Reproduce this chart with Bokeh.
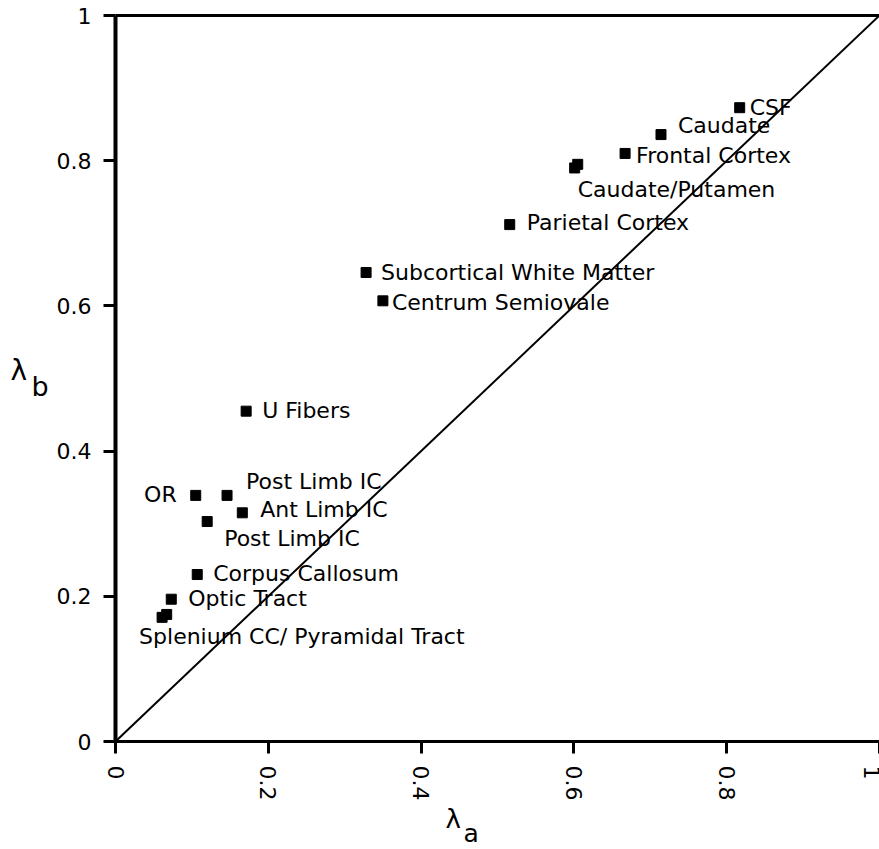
from bokeh.plotting import figure
from bokeh.layouts import row, column
from bokeh.models import Range1d, LinearAxis, FixedTicker, Slope, ColumnDataSource, CustomJSTickFormatter
from bokeh.core.properties import value
from bokeh.embed import file_html
from bokeh.resources import INLINE

# Data
lambda_a = [0.817, 0.714, 0.667, 0.601, 0.605, 0.516, 0.328, 0.350, 0.171,
            0.105, 0.146, 0.166, 0.120, 0.107, 0.073, 0.061, 0.067]
lambda_b = [0.873, 0.836, 0.810, 0.790, 0.795, 0.712, 0.646, 0.607, 0.455,
            0.339, 0.339, 0.315, 0.303, 0.230, 0.196, 0.171, 0.175]
regions = ["CSF", "Caudate", "Frontal Cortex", "Caudate/Putamen", "",
           "Parietal Cortex", "Subcortical White Matter", "Centrum Semiovale",
           "U Fibers", "OR", "Post Limb IC", "Ant Limb IC", "Post Limb IC",
           "Corpus Callosum", "Optic Tract", "Splenium CC/ Pyramidal Tract", ""]
tick_values = [0, 0.2, 0.4, 0.6, 0.8, 1.0]
x_title = ["λ", "a"]
y_title = ["λ", "b"]

# label placement (pixels)
label_dx = [10, 17, 11, 3, 0, 17, 15, 9, 16, -19, 19, 18, 17, 16, 17, -23, 0]
label_dy = [0, -9, 2, 22, 0, -2, 0, 2, -1, -1, -14, -3, 17, -1, -1, 19, 0]
label_align = ["left"] * 9 + ["right"] + ["left"] * 7

FONT = "DejaVu Sans"
W, H = 879, 849
LEFT_W = 50
MAIN_H = 805


def blank_fig(w, h):
    f = figure(width=w, height=h, output_backend="svg", toolbar_location=None,
               x_range=Range1d(0, w), y_range=Range1d(0, h),
               min_border=0, x_axis_location=None, y_axis_location=None)
    f.grid.visible = False
    f.outline_line_color = None
    return f


p = figure(width=W - LEFT_W, height=MAIN_H, output_backend="svg", toolbar_location=None,
           x_range=Range1d(0, 1.0), y_range=Range1d(0, 1.0),
           min_border_left=115 - LEFT_W, min_border_right=0, min_border_top=15,
           min_border_bottom=MAIN_H - 741,
           x_axis_location=None, y_axis_location=None)
p.grid.visible = False
p.outline_line_color = None

fmt = CustomJSTickFormatter(code="return tick == 0 ? '0' : (tick == 1 ? '1' : tick.toFixed(1));")

xaxis = LinearAxis(ticker=FixedTicker(ticks=tick_values), formatter=fmt)
xaxis.major_label_orientation = "vertical"
yaxis = LinearAxis(ticker=FixedTicker(ticks=tick_values), formatter=fmt)
for ax, lw in ((xaxis, 3), (yaxis, 4)):
    ax.axis_line_width = lw
    ax.axis_line_color = "black"
    ax.major_tick_line_width = 3
    ax.major_tick_out = 12
    ax.major_tick_in = 0
    ax.minor_tick_line_color = None
    ax.major_label_text_font = FONT
    ax.major_label_text_font_size = "22px"
    ax.major_label_text_color = "black"
    ax.major_label_standoff = 12
p.add_layout(xaxis, "below")
p.add_layout(yaxis, "left")

top = LinearAxis(ticker=FixedTicker(ticks=[]), major_label_text_font_size="0px")
top.axis_line_width = 3
top.minor_tick_line_color = None
top.major_tick_line_color = None
p.add_layout(top, "above")

p.add_layout(Slope(gradient=1, y_intercept=0, line_color="black", line_width=2))

src = ColumnDataSource(dict(x=lambda_a, y=lambda_b, t=regions, dx=label_dx, dy=label_dy, al=label_align))
p.scatter("x", "y", source=src, marker="square", size=10, color="black")
p.text("x", "y", text="t", source=src, x_offset="dx", y_offset="dy", text_align="al",
       text_baseline="middle", text_font=value(FONT), text_font_size="22px", text_color="black")

# y title panel (left)
lf = blank_fig(LEFT_W, MAIN_H)
lf.text(x=[10], y=[MAIN_H - 394], text=[y_title[0]], text_font=value(FONT), text_font_size="28px",
        text_baseline="alphabetic", text_align="left", text_color="black")
lf.text(x=[31], y=[MAIN_H - 411], text=[y_title[1]], text_font=value(FONT), text_font_size="27px",
        text_baseline="alphabetic", text_align="left", text_color="black")

# x title panel (bottom)
BOT_H = H - MAIN_H
bf = blank_fig(W, BOT_H)
bf.text(x=[445], y=[H - 818], text=[x_title[0]], text_font=value(FONT), text_font_size="26px",
        text_baseline="alphabetic", text_align="left", text_color="black")
bf.text(x=[463], y=[H - 833], text=[x_title[1]], text_font=value(FONT), text_font_size="25px",
        text_baseline="alphabetic", text_align="left", text_color="black")

layout = column(row(lf, p, spacing=0), bf, spacing=0)
open("out.html", "w").write(file_html(layout, INLINE))
